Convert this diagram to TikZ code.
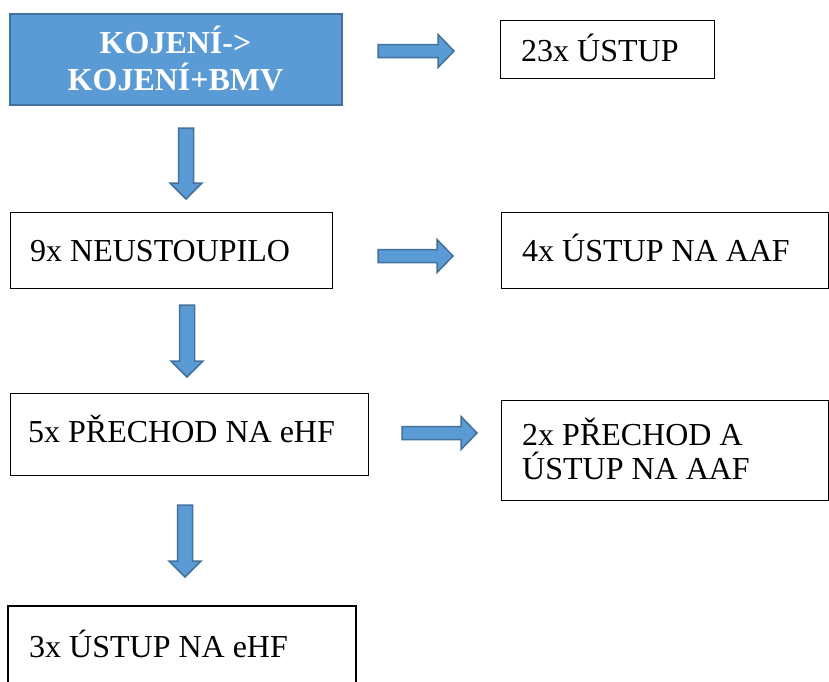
\documentclass[tikz,border=0pt]{standalone}
\usepackage{fontspec}
\setmainfont{Liberation Serif}
\definecolor{blfill}{HTML}{5B9BD5}
\definecolor{bldraw}{HTML}{41719C}
\newcommand\RightBlock[4]{% name, x tail, x tip, y center
  \draw[blockarrow] (#2,#4-6.5) -- (#3-16,#4-6.5) -- (#3-16,#4-16.5) -- (#3,#4) -- (#3-16,#4+16.5) -- (#3-16,#4+6.5) -- (#2,#4+6.5) -- cycle;
  \coordinate (#1) at (#2,#4);}
\newcommand\DownBlock[4]{% name, x center, y top, y tip
  \draw[blockarrow] (#2-7.5,#3) -- (#2+7.5,#3) -- (#2+7.5,#4-16) -- (#2+16,#4-16) -- (#2,#4) -- (#2-16,#4-16) -- (#2-7.5,#4-16) -- cycle;
  \coordinate (#1) at (#2,#3);}
\begin{document}
\begin{tikzpicture}[x=1pt,y=-1pt,
  boxline/.style={draw=black,line width=1pt},
  txt/.style={inner sep=0pt,anchor=base west,font=\fontsize{32}{37}\selectfont},
  blockarrow/.style={fill=blfill,draw=bldraw,line width=1.5pt,line join=miter}]
\clip (0,0) rectangle (829,681);
\fill[white] (0,0) rectangle (829,681);
% top box
\draw[fill=blfill,draw=bldraw,line width=2pt] (9.5,13.5) rectangle (341.5,104.5);
\node[inner sep=0pt,anchor=base,text=white,font=\fontsize{32}{37}\selectfont\bfseries] (top1) at (175.5,53) {KOJENÍ->};
\node[inner sep=0pt,anchor=base,text=white,font=\fontsize{32}{37}\selectfont\bfseries] (top2) at (175.5,90) {KOJENÍ+BMV};
% row 1 right
\draw[boxline] (500.5,20.5) rectangle (714,78);
\node[txt] (t23) at (521,61) {23x ÚSTUP};
\RightBlock{a1}{378}{454}{51}
% down 1
\DownBlock{d1}{186}{128}{199}
% row 2
\draw[boxline] (10,212) rectangle (332,288);
\node[txt] (t9) at (30,261) {9x NEUSTOUPILO};
\RightBlock{a2}{378}{453}{256}
\draw[boxline] (501,212) rectangle (828,288);
\node[txt] (t4) at (522,261) {4x ÚSTUP NA AAF};
% down 2
\DownBlock{d2}{187}{305}{377}
% row 3
\draw[boxline] (10,393) rectangle (368,475);
\node[txt] (t5) at (28,442) {5x PŘECHOD NA eHF};
\RightBlock{a3}{402}{477}{433}
\draw[boxline] (501,400) rectangle (828,500);
\node[txt] (t2a) at (522,445) {2x PŘECHOD A};
\node[txt] (t2b) at (522,479) {ÚSTUP NA AAF};
% down 3
\DownBlock{d3}{185}{505}{577}
% row 4
\draw[draw=black,line width=2pt] (8,606) rectangle (356,690);
\node[txt] (t3) at (29,657) {3x ÚSTUP NA eHF};
\end{tikzpicture}
\end{document}
